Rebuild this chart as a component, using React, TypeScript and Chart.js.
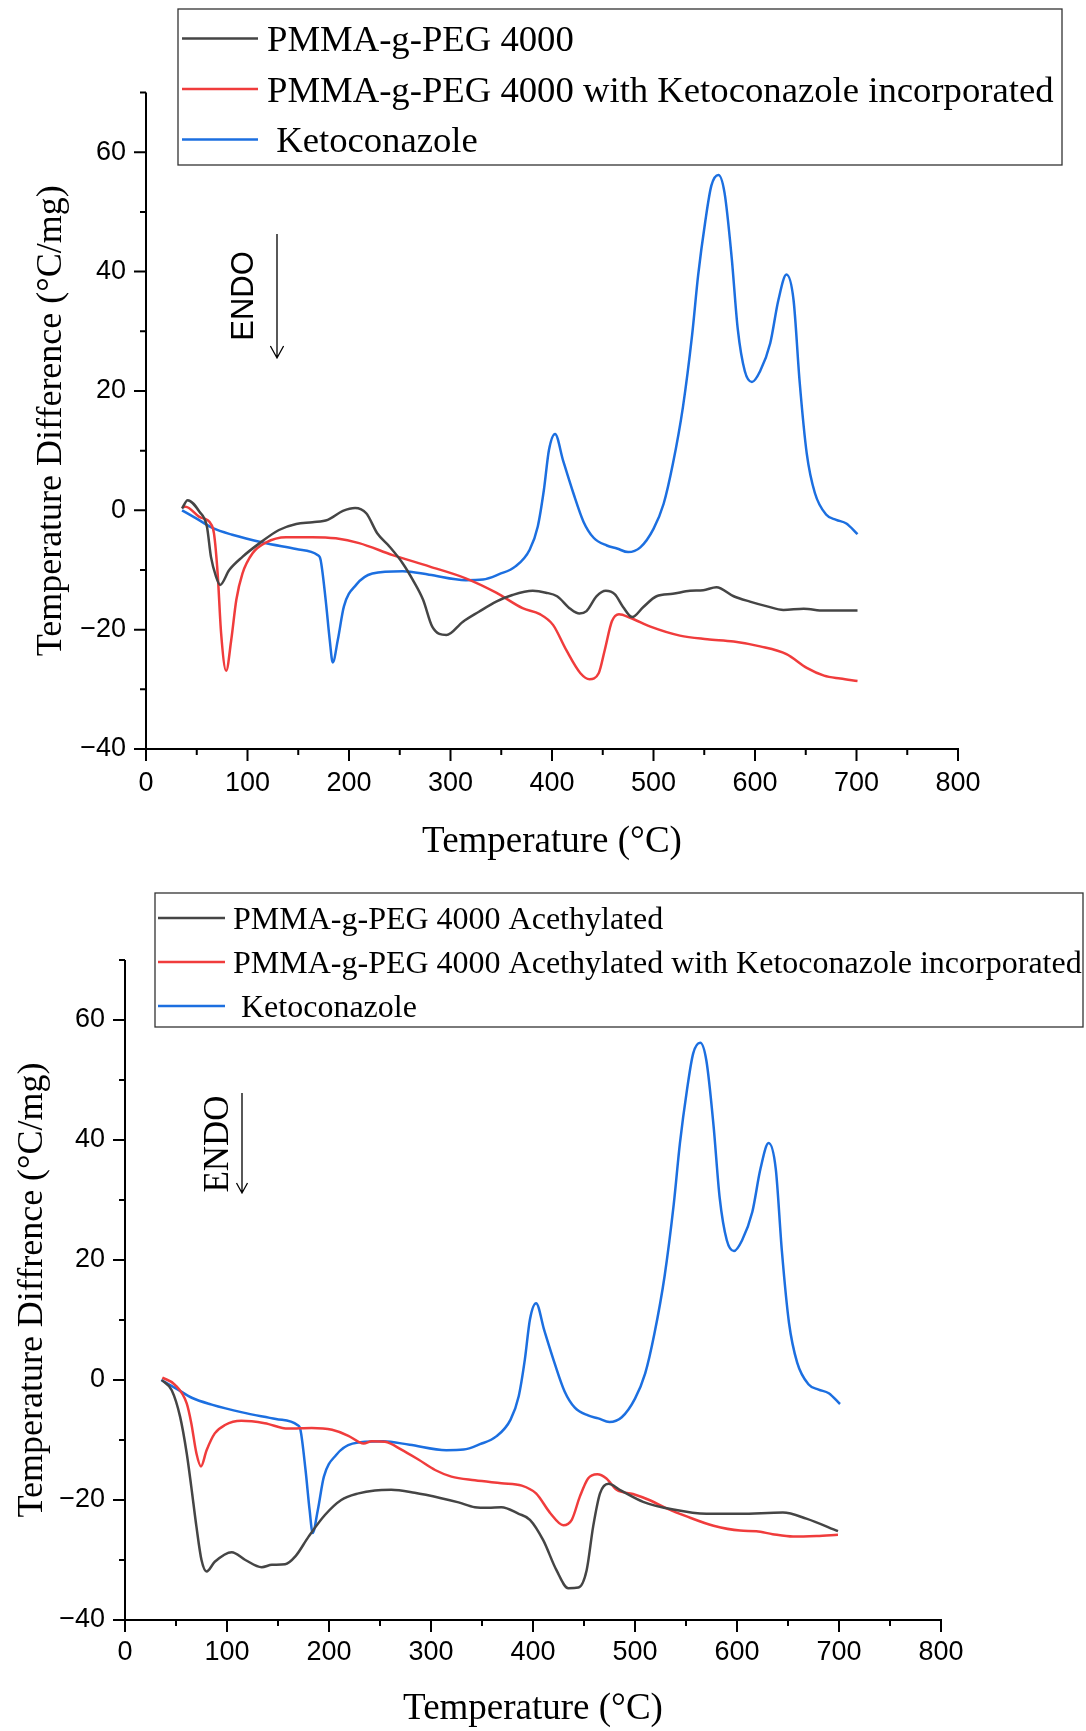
import React, { useEffect, useRef } from 'react';
import { Chart, registerables } from 'chart.js';

Chart.register(...registerables);

// ---------- data (Temperature °C, Temperature Difference °C/mg) ----------
const X_TICKS = [0, 100, 200, 300, 400, 500, 600, 700, 800];
const X_MINOR = [50, 150, 250, 350, 450, 550, 650, 750];
const Y_TICKS = [-40, -20, 0, 20, 40, 60];
const Y_MINOR = [-30, -10, 10, 30, 50, 70];

const topBlackT = [35.5, 41, 52.5, 60, 64, 69, 73, 82, 95, 112, 131, 148, 164, 179, 194, 206, 217, 228, 240, 253, 263, 273, 282, 296, 312, 328, 345, 361, 381, 394, 405, 418, 427, 434, 444, 453, 462, 470, 479, 490, 503, 519, 536, 549, 562, 579, 595, 612, 628, 648, 668, 701];
const topBlackV = [0.3, 1.7, -0.2, -2.7, -7.8, -11.1, -12.5, -10, -7.8, -5.5, -3.3, -2.3, -2.0, -1.6, -0.1, 0.4, -0.5, -3.9, -6.1, -8.9, -11.7, -15, -19.5, -20.9, -18.7, -17, -15.3, -14.2, -13.5, -13.8, -14.4, -16.5, -17.3, -16.9, -14.4, -13.5, -14.1, -16.2, -17.9, -16.2, -14.4, -14, -13.5, -13.4, -12.9, -14.4, -15.3, -16.1, -16.7, -16.5, -16.8, -16.8];

const topRedT = [35.5, 39, 52.5, 64, 67, 70.6, 74, 79, 84, 89, 95, 105, 118, 138, 164, 187, 210, 243, 279, 315, 345, 371, 388, 401, 414, 428, 437, 446, 452, 459, 466, 477, 497, 526, 553, 579, 605, 631, 651, 668, 684, 701];
const topRedV = [0.5, 0.6, -1.1, -2.3, -3.9, -10.6, -20.6, -26.9, -21.7, -15, -10.6, -7.2, -5.4, -4.5, -4.5, -4.7, -5.5, -7.5, -9.4, -11.4, -13.8, -16.4, -17.4, -19.2, -23.4, -27.3, -28.3, -27.3, -23.4, -18.6, -17.4, -18, -19.5, -21, -21.6, -22, -22.8, -24.1, -26.4, -27.7, -28.2, -28.6];

const ketoT = [35.5, 49, 66, 85, 115, 148, 169, 172, 177, 181, 184, 189, 195, 207, 223, 253, 279, 315, 332, 348, 364, 378, 386, 392, 397, 403, 411, 421, 431, 441, 454, 464, 475, 487, 500, 510, 519, 529, 538, 544, 551, 557, 564, 570, 577, 583, 590, 597, 605, 615, 623, 631, 638, 644, 651, 659, 670, 680, 690, 701];
const ketoV = [0, -1.3, -3.0, -4.1, -5.4, -6.5, -7.5, -8.3, -15, -21.7, -25.5, -21.7, -16.1, -12.5, -10.6, -10.2, -10.8, -11.7, -11.6, -10.7, -9.4, -6.6, -2.7, 3.4, 10.1, 12.8, 8.3, 2.9, -1.9, -4.6, -5.9, -6.4, -7.0, -6.2, -3.1, 1.1, 7.7, 17.3, 29.3, 39.4, 48.4, 54.4, 56.2, 53.2, 42.4, 30.4, 23.3, 21.5, 23.3, 28, 35.2, 39.5, 35.2, 21.5, 9.5, 2.9, -0.7, -1.6, -2.2, -4.0];

const botBlackT = [36, 45.8, 54, 60.5, 65, 70, 75, 80, 88, 104.6, 118, 134, 144, 157, 167, 180, 196, 212, 229, 245, 261, 284, 310, 327, 343, 356, 369, 386, 397, 410, 423, 434.6, 444.5, 452.6, 459, 465.7, 474, 485, 508, 537.6, 570, 603, 645, 668, 699];
const botBlackV = [0, -1.7, -6.1, -12.2, -17.8, -24.4, -30, -31.9, -30.3, -28.7, -30, -31.2, -30.8, -30.7, -29.4, -26.1, -22.5, -20, -18.9, -18.4, -18.3, -18.8, -19.7, -20.4, -21.2, -21.3, -21.2, -22.3, -23.3, -26.7, -31.7, -34.7, -34.6, -31.7, -24.4, -18.9, -17.3, -18.3, -20.3, -21.6, -22.3, -22.3, -22.1, -23.1, -25.2];

const botRedT = [36.6, 49, 60.5, 65, 70, 74.5, 80, 88, 98, 114, 137, 160, 183, 203, 219, 229, 234, 242, 255, 271, 288, 304, 320, 343, 369, 389, 403, 417, 429.7, 438, 446, 454, 463, 472, 482, 498, 514, 531, 550, 577, 603, 619, 635, 655, 678, 699];
const botRedV = [0.4, -0.8, -3.9, -7.2, -12.2, -14.4, -11.7, -8.9, -7.5, -6.8, -7.2, -8.1, -8.0, -8.3, -9.3, -10.3, -10.6, -10.2, -10.3, -11.6, -13.3, -15, -16.1, -16.7, -17.2, -17.6, -18.9, -22.2, -24.2, -23.3, -19.4, -16.4, -15.7, -16.4, -18.3, -19, -20, -21.4, -22.7, -24.3, -25.1, -25.2, -25.7, -26.1, -26, -25.8];

const topLabels = ['PMMA-g-PEG 4000', 'PMMA-g-PEG 4000 with Ketoconazole incorporated', ' Ketoconazole'];
const botLabels = ['PMMA-g-PEG 4000 Acethylated', 'PMMA-g-PEG 4000 Acethylated with Ketoconazole incorporated', ' Ketoconazole'];

// ---------- styles ----------
const COLORS = ['#454545', '#f03c3c', '#1c6fe0'];
const SERIF = "'Liberation Serif', 'DejaVu Serif', serif";
const SANS = "'Liberation Sans', Arial, sans-serif";

const pts = (t: number[], v: number[]) => t.map((x, i) => ({ x, y: v[i] }));
const fmt = (v: number) => (v < 0 ? '\u2212' + Math.abs(v) : String(v));

type Spec = {
  height: number;
  yAxisWidth: number;
  padTop: number;
  padRight: number;
  xAxisHeight: number;
  yTitle: string;
  yTitlePad: number;
  xTitlePad: number;
  xTickPad: number;
  series: { t: number[]; v: number[] }[];
  labels: string[];
  legend: { x: number; y: number; w: number; h: number; rows: number[]; lx0: number; lx1: number; tx: number; font: number; base: number };
  endo: { x: number; y: number; font: string; arrowX: number; arrowY0: number; arrowY1: number; head: number };
};

function makeDecor(spec: Spec) {
  return {
    id: 'decor',
    afterDraw(chart: any) {
      const { ctx } = chart;
      const xs = chart.scales.x;
      const ys = chart.scales.y;
      const x0 = xs.getPixelForValue(0);
      const x1 = xs.getPixelForValue(800);
      const yb = ys.getPixelForValue(-40);
      const yt = ys.getPixelForValue(70);
      ctx.save();
      ctx.strokeStyle = '#000';
      ctx.lineWidth = 2;
      ctx.lineCap = 'butt';
      ctx.beginPath();
      ctx.moveTo(x0, yt);
      ctx.lineTo(x0, yb);
      ctx.lineTo(x1 + 1, yb);
      ctx.stroke();
      ctx.beginPath();
      X_TICKS.forEach((v) => {
        const p = xs.getPixelForValue(v);
        ctx.moveTo(p, yb);
        ctx.lineTo(p, yb + 12);
      });
      X_MINOR.forEach((v) => {
        const p = xs.getPixelForValue(v);
        ctx.moveTo(p, yb);
        ctx.lineTo(p, yb + 6);
      });
      Y_TICKS.forEach((v) => {
        const p = ys.getPixelForValue(v);
        ctx.moveTo(x0, p);
        ctx.lineTo(x0 - 12, p);
      });
      Y_MINOR.forEach((v) => {
        const p = ys.getPixelForValue(v);
        ctx.moveTo(x0, p);
        ctx.lineTo(x0 - 6, p);
      });
      ctx.stroke();

      // legend
      const L = spec.legend;
      ctx.lineWidth = 1.3;
      ctx.strokeStyle = '#333';
      ctx.fillStyle = '#fff';
      ctx.fillRect(L.x, L.y, L.w, L.h);
      ctx.strokeRect(L.x, L.y, L.w, L.h);
      ctx.font = `${L.font}px ${SERIF}`;
      ctx.textBaseline = 'alphabetic';
      ctx.textAlign = 'left';
      spec.labels.forEach((lab, i) => {
        const y = L.rows[i];
        ctx.strokeStyle = COLORS[i];
        ctx.lineWidth = 2.5;
        ctx.beginPath();
        ctx.moveTo(L.lx0, y);
        ctx.lineTo(L.lx1, y);
        ctx.stroke();
        ctx.fillStyle = '#000';
        ctx.fillText(lab, L.tx, y + L.base);
      });

      // ENDO annotation
      const E = spec.endo;
      ctx.save();
      ctx.translate(E.x, E.y);
      ctx.rotate(-Math.PI / 2);
      ctx.font = E.font;
      ctx.fillStyle = '#000';
      ctx.textAlign = 'center';
      ctx.textBaseline = 'alphabetic';
      ctx.fillText('ENDO', 0, 0);
      ctx.restore();
      ctx.strokeStyle = '#000';
      ctx.lineWidth = 1.3;
      ctx.beginPath();
      ctx.moveTo(E.arrowX, E.arrowY0);
      ctx.lineTo(E.arrowX, E.arrowY1);
      ctx.moveTo(E.arrowX - E.head * 0.55, E.arrowY1 - E.head);
      ctx.lineTo(E.arrowX, E.arrowY1);
      ctx.lineTo(E.arrowX + E.head * 0.55, E.arrowY1 - E.head);
      ctx.stroke();
      ctx.restore();
    },
  };
}

function DTAChart({ spec }: { spec: Spec }) {
  const ref = useRef<HTMLCanvasElement | null>(null);
  useEffect(() => {
    if (!ref.current) return;
    const tickFont = { family: SANS, size: 27 };
    const chart = new Chart(ref.current, {
      type: 'line',
      data: {
        datasets: spec.series.map((s, i) => ({
          label: spec.labels[i],
          data: pts(s.t, s.v),
          borderColor: COLORS[i],
          borderWidth: 2.5,
          pointRadius: 0,
          fill: false,
          cubicInterpolationMode: 'monotone' as const,
          tension: 0.4,
        })),
      },
      options: {
        animation: false,
        responsive: false,
        maintainAspectRatio: false,
        parsing: false as any,
        layout: { padding: { top: spec.padTop, right: spec.padRight, left: 0, bottom: 0 } },
        plugins: { legend: { display: false }, tooltip: { enabled: false }, title: { display: false } },
        scales: {
          x: {
            type: 'linear',
            min: 0,
            max: 800,
            grid: { display: false, drawTicks: false },
            border: { display: false },
            afterBuildTicks: (s: any) => {
              s.ticks = X_TICKS.map((v) => ({ value: v }));
            },
            afterFit: (s: any) => {
              s.height = spec.xAxisHeight;
            },
            ticks: { font: tickFont, color: '#000', padding: spec.xTickPad, maxRotation: 0, autoSkip: false, callback: (v: any) => fmt(Number(v)) },
            title: { display: true, text: 'Temperature (°C)', color: '#000', font: { family: SERIF, size: 37 }, padding: { top: 0, bottom: spec.xTitlePad } },
          },
          y: {
            type: 'linear',
            min: -40,
            max: 70,
            grid: { display: false, drawTicks: false },
            border: { display: false },
            afterBuildTicks: (s: any) => {
              s.ticks = Y_TICKS.map((v) => ({ value: v }));
            },
            afterFit: (s: any) => {
              s.width = spec.yAxisWidth;
            },
            ticks: { font: tickFont, color: '#000', padding: 20, autoSkip: false, callback: (v: any) => fmt(Number(v)) },
            title: { display: true, text: spec.yTitle, color: '#000', font: { family: SERIF, size: 36 }, padding: { top: spec.yTitlePad, bottom: 0 } },
          },
        },
      },
      plugins: [makeDecor(spec)],
    } as any);
    return () => chart.destroy();
  }, [spec]);
  return <canvas ref={ref} width={1086} height={spec.height} style={{ display: 'block', width: 1086, height: spec.height }} />;
}

const topSpec: Spec = {
  height: 865,
  yAxisWidth: 146,
  padTop: 92.6,
  padRight: 128,
  xAxisHeight: 116,
  yTitle: 'Temperature Difference (°C/mg)',
  yTitlePad: 30,
  xTitlePad: 1,
  xTickPad: 18,
  series: [
    { t: topBlackT, v: topBlackV },
    { t: topRedT, v: topRedV },
    { t: ketoT, v: ketoV },
  ],
  labels: topLabels,
  legend: { x: 178, y: 9, w: 884, h: 156, rows: [38.5, 89, 139.5], lx0: 182, lx1: 258, tx: 267, font: 36.7, base: 12.5 },
  endo: { x: 253, y: 296, font: `31px ${SANS}`, arrowX: 277, arrowY0: 234, arrowY1: 358, head: 12 },
};

const botSpec: Spec = {
  height: 866,
  yAxisWidth: 125,
  padTop: 95,
  padRight: 145,
  xAxisHeight: 111,
  yTitle: 'Temperature Diffrence (°C/mg)',
  yTitlePad: 11,
  xTitlePad: 0,
  xTickPad: 16,
  series: [
    { t: botBlackT, v: botBlackV },
    { t: botRedT, v: botRedV },
    { t: ketoT, v: ketoV },
  ],
  labels: botLabels,
  legend: { x: 155, y: 28, w: 928, h: 134, rows: [53, 97, 141], lx0: 158, lx1: 225, tx: 233, font: 32, base: 10.5 },
  endo: { x: 228, y: 279, font: `35px ${SERIF}`, arrowX: 242, arrowY0: 228, arrowY1: 328, head: 10 },
};

export default function App() {
  return (
    <div style={{ position: 'absolute', left: 0, top: 0, width: 1086, height: 1731, background: '#fff' }}>
      <DTAChart spec={topSpec} />
      <DTAChart spec={botSpec} />
    </div>
  );
}
